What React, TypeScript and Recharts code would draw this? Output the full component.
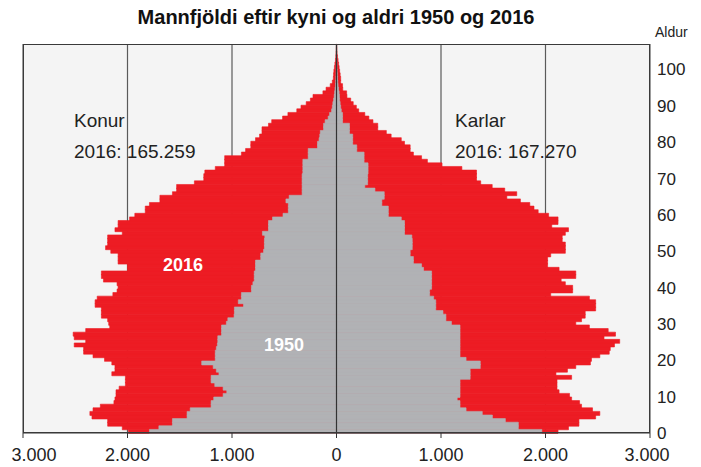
import React from "react";
import {
  Bar,
  BarChart,
  CartesianGrid,
  ReferenceLine,
  XAxis,
  YAxis,
} from "recharts";

// ages 0..107, one bar per year
const ages: number[] = Array.from({ length: 108 }, (_, i) => i);

const women2016 = [
  1990, 2050, 2190, 2190, 2340, 2360, 2330, 2260, 2130, 2120,
  2110, 2110, 2080, 2020, 2020, 2020, 2150, 2120, 2120, 2150,
  2220, 2330, 2420, 2420, 2510, 2400, 2510, 2520, 2400, 2170,
  2180, 2190, 2250, 2250, 2250, 2310, 2310, 2290, 2140, 2100,
  2090, 2100, 2230, 2250, 2250, 2000, 2000, 2090, 2090, 2090,
  2160, 2210, 2190, 2190, 2190, 2050, 2120, 2090, 2090, 1980,
  1930, 1830, 1830, 1790, 1690, 1690, 1570, 1530, 1530, 1360,
  1270, 1270, 1260, 1160, 1070, 1070, 1070, 910, 870, 820,
  820, 775, 736, 713, 713, 651, 620, 516, 465, 380,
  340, 290, 250, 225, 130, 100, 60, 40, 30, 28,
  25, 20, 15, 10, 6, 4, 2, 1,
];

const men2016 = [
  2120, 2220, 2320, 2320, 2480, 2520, 2450, 2345, 2326, 2250,
  2230, 2130, 2110, 2110, 2110, 2250, 2100, 2210, 2290, 2430,
  2440, 2520, 2610, 2620, 2660, 2710, 2560, 2670, 2600, 2420,
  2290, 2345, 2380, 2380, 2480, 2480, 2480, 2420, 2050, 2260,
  2260, 2190, 2150, 2290, 2290, 2130, 2020, 2020, 2020, 2050,
  2190, 2190, 2190, 2160, 2160, 2190, 2220, 2060, 2120, 2120,
  2030, 1930, 1890, 1850, 1760, 1630, 1725, 1610, 1490, 1380,
  1340, 1340, 1340, 1200, 1010, 870, 814, 736, 705, 705,
  651, 620, 523, 477, 395, 395, 349, 310, 271, 213,
  190, 160, 136, 100, 97, 60, 58, 40, 40, 35,
  30, 25, 20, 15, 10, 5, 3, 2,
];

const women1950 = [
  1790, 1700, 1570, 1570, 1430, 1430, 1400, 1200, 1200, 1175,
  1085, 1050, 1085, 1165, 1200, 1200, 1125, 1150, 1180, 1290,
  1160, 1160, 1160, 1150, 1140, 1136, 1136, 1100, 1100, 1100,
  1054, 1040, 980, 977, 977, 890, 940, 910, 910, 814,
  814, 800, 787, 787, 787, 775, 775, 775, 725, 725,
  698, 690, 690, 690, 686, 709, 651, 651, 651, 612,
  512, 461, 461, 461, 484, 453, 329, 329, 329, 329,
  329, 329, 322, 322, 322, 322, 271, 271, 271, 182,
  182, 167, 160, 155, 124, 124, 109, 80, 66, 47,
  40, 35, 28, 22, 18, 14, 10, 8, 6, 4,
  3, 2, 1, 1, 0, 0, 0, 0,
];

const men1950 = [
  1965, 1740, 1740, 1616, 1492, 1395, 1240, 1182, 1182, 1155,
  1182, 1182, 1182, 1182, 1182, 1279, 1279, 1279, 1376, 1376,
  1240, 1182, 1182, 1182, 1182, 1182, 1182, 1182, 1182, 1182,
  1100, 1047, 1047, 1019, 950, 950, 950, 930, 891, 891,
  910, 910, 910, 910, 910, 833, 814, 736, 736, 705,
  705, 725, 725, 725, 721, 651, 651, 651, 651, 620,
  496, 496, 496, 434, 434, 457, 457, 368, 271, 298,
  298, 298, 302, 302, 302, 264, 264, 264, 194, 194,
  155, 155, 155, 124, 124, 124, 58, 58, 58, 46,
  40, 35, 30, 28, 25, 20, 15, 12, 10, 8,
  6, 4, 3, 2, 1, 1, 0, 0,
];

const xTicks = [-3000, -2000, -1000, 0, 1000, 2000, 3000];
const ageTicks = [0, 10, 20, 30, 40, 50, 60, 70, 80, 90, 100];

// women go to the left
const data = ages.map((age, i) => ({
  age,
  w16: -women2016[i],
  m16: men2016[i],
  w50: -women1950[i],
  m50: men1950[i],
}));

const RED = "#ed1c24";
const GREY = "#b1b2b5";
const FONT = "'Liberation Sans', Arial, Helvetica, sans-serif";

const fmt = (v: number) =>
  Math.abs(v)
    .toString()
    .replace(/\B(?=(\d{3})+(?!\d))/g, ".");

// edge labels are pulled inward a little, like the original
const XTick = (props: any) => {
  const { x, y, payload } = props;
  let dx = 0;
  if (payload.value === -3000) dx = 11;
  if (payload.value === 3000) dx = -3;
  return (
    <text
      x={x + dx}
      y={y}
      dy="0.71em"
      textAnchor="middle"
      fontSize={18}
      fill="#222"
      fontFamily={FONT}
    >
      {fmt(payload.value)}
    </text>
  );
};

const abs = (left: number, top: number, extra: React.CSSProperties = {}) =>
  ({
    position: "absolute",
    left,
    top,
    fontFamily: FONT,
    whiteSpace: "nowrap",
    lineHeight: 1,
    ...extra,
  }) as React.CSSProperties;

export default function App() {
  return (
    <div
      style={{
        position: "absolute",
        left: 0,
        top: 0,
        width: 701,
        height: 467,
        background: "#fff",
      }}
    >
      <BarChart
        width={701}
        height={467}
        data={data}
        layout="vertical"
        stackOffset="sign"
        barCategoryGap={0}
        margin={{ top: 44, right: 6, bottom: 4, left: 23 }}
      >
        <CartesianGrid
          yAxisId="n"
          horizontal={false}
          fill="#f4f4f4"
          stroke="#5a5a5a"
          strokeWidth={1.2}
        />
        <XAxis
          type="number"
          domain={[-3000, 3000]}
          ticks={xTicks}
          height={30}
          stroke="#333"
          tickSize={5}
          tickMargin={10}
          tick={<XTick />}
        />
        <YAxis yAxisId="a" type="category" dataKey="age" reversed hide />
        <YAxis yAxisId="b" type="category" dataKey="age" reversed hide />
        <YAxis
          yAxisId="n"
          type="number"
          orientation="right"
          domain={[0, 108]}
          allowDataOverflow
          reversed
          ticks={ageTicks}
          width={45}
          axisLine={false}
          tickLine={false}
          tickSize={0}
          tickMargin={7}
          tick={{ fontSize: 17, fill: "#222", fontFamily: FONT }}
        />
        <Bar yAxisId="a" dataKey="w16" stackId="r" fill={RED} stroke={RED} strokeWidth={0.6} isAnimationActive={false} />
        <Bar yAxisId="a" dataKey="m16" stackId="r" fill={RED} stroke={RED} strokeWidth={0.6} isAnimationActive={false} />
        <Bar yAxisId="b" dataKey="w50" stackId="g" fill={GREY} stroke={GREY} strokeWidth={0.6} isAnimationActive={false} />
        <Bar yAxisId="b" dataKey="m50" stackId="g" fill={GREY} stroke={GREY} strokeWidth={0.6} isAnimationActive={false} />
        <ReferenceLine yAxisId="n" x={0} stroke="#333" strokeWidth={1.2} />
      </BarChart>

      {/* plot frame */}
      <div
        style={{
          position: "absolute",
          left: 23,
          top: 44,
          width: 627,
          height: 389,
          border: "1.3px solid #3a3a3a",
          boxSizing: "border-box",
          pointerEvents: "none",
        }}
      />

      <div
        style={abs(336, 7, {
          transform: "translateX(-50%)",
          fontSize: 20,
          fontWeight: "bold",
          color: "#111",
        })}
      >
        Mannfjöldi eftir kyni og aldri 1950 og 2016
      </div>
      <div style={abs(655, 25, { fontSize: 14, color: "#222" })}>Aldur</div>

      <div style={abs(74, 111, { fontSize: 19, color: "#222" })}>Konur</div>
      <div style={abs(74, 142, { fontSize: 19, color: "#222" })}>2016: 165.259</div>
      <div style={abs(455, 111, { fontSize: 19, color: "#222" })}>Karlar</div>
      <div style={abs(455, 142, { fontSize: 19, color: "#222" })}>2016: 167.270</div>

      <div
        style={abs(183, 256, {
          transform: "translateX(-50%)",
          fontSize: 18,
          fontWeight: "bold",
          color: "#fff",
        })}
      >
        2016
      </div>
      <div
        style={abs(284, 336, {
          transform: "translateX(-50%)",
          fontSize: 18,
          fontWeight: "bold",
          color: "#fff",
        })}
      >
        1950
      </div>
    </div>
  );
}
